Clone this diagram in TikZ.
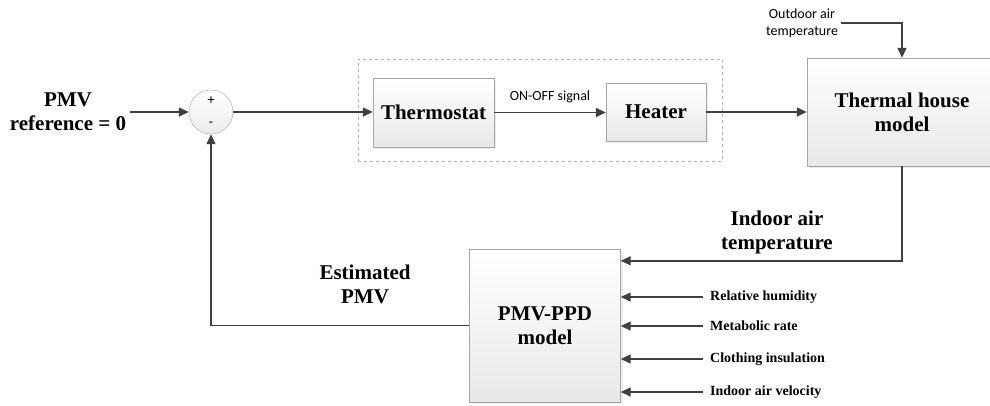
\documentclass[tikz,border=0pt]{standalone}
\usepackage{fontspec}
\setmainfont{Liberation Serif}
\newfontfamily\sigfont{Carlito}
\usetikzlibrary{arrows.meta,shadows}
\tikzset{
  blk/.style={draw=gray!70,top color=white,bottom color=gray!18,font=\fontsize{21}{24}\selectfont\bfseries,align=center,inner sep=0pt,drop shadow={opacity=0.15,shadow xshift=2pt,shadow yshift=-2pt}},
  sumnode/.style={circle,draw=gray!70,top color=white,bottom color=gray!15,minimum size=44pt,inner sep=0pt},
  sig/.style={draw=black!75,line width=1.4pt,-{Triangle[length=10pt,width=9pt]}},
  biglbl/.style={font=\fontsize{21}{24}\selectfont\bfseries,align=center},
  inlbl/.style={font=\fontsize{14}{16}\selectfont\bfseries,anchor=west,inner sep=0pt},
  smlbl/.style={font=\sigfont\fontsize{14}{17}\selectfont,align=center}
}
\begin{document}
\begin{tikzpicture}[x=1pt,y=-1pt]
\clip (0,0) rectangle (990,405);
\node[draw=gray!60,dashed,inner sep=0pt,minimum width=364pt,minimum height=102pt] (grp) at (540,110) {};
\node[biglbl] (ref) at (68,112) {PMV\\reference = 0};
\node[sumnode] (sum) at (211,112) {};
\node[smlbl] (plus) at (211,101) {+};
\node[smlbl] (minus) at (211,124) {-};
\node[blk,minimum width=121pt,minimum height=69pt] (thermo) at (433.5,112.5) {Thermostat};
\node[blk,minimum width=100pt,minimum height=58pt] (heat) at (656,112) {Heater};
\node[blk,minimum width=190pt,minimum height=108pt] (house) at (902,112) {Thermal house\\model};
\node[blk,minimum width=151pt,minimum height=153pt] (pmv) at (545,325.5) {PMV-PPD\\model};
\node[smlbl] (outdoor) at (802,23) {Outdoor air\\temperature};
\node[smlbl] (onoff) at (550,97) {ON-OFF signal};
\node[biglbl] (indoor) at (777,232) {Indoor air\\temperature};
\node[biglbl] (est) at (365,284) {Estimated\\PMV};
\draw[sig] (ref.east) -- (sum.west);
\draw[sig] (sum.east) -- (sum.east -| thermo.west);
\draw[sig] (thermo.east) -- (thermo.east -| heat.west);
\draw[sig] (heat.east) -- (heat.east -| house.west);
\draw[sig] (outdoor.east) -| (house.north);
\draw[sig] (house.south) |- ([yshift=-12pt]pmv.north east);
\draw[sig] (pmv.west) -| (sum.south);
\foreach \y/\t [count=\i] in {297/Relative humidity,326/Metabolic rate,359/Clothing insulation,392/Indoor air velocity}{
  \node[inlbl] (in\i) at (710,\y) {\t};
  \draw[sig] ([xshift=-7pt]in\i.west) -- (in\i.west -| pmv.east);
}
\end{tikzpicture}
\end{document}
